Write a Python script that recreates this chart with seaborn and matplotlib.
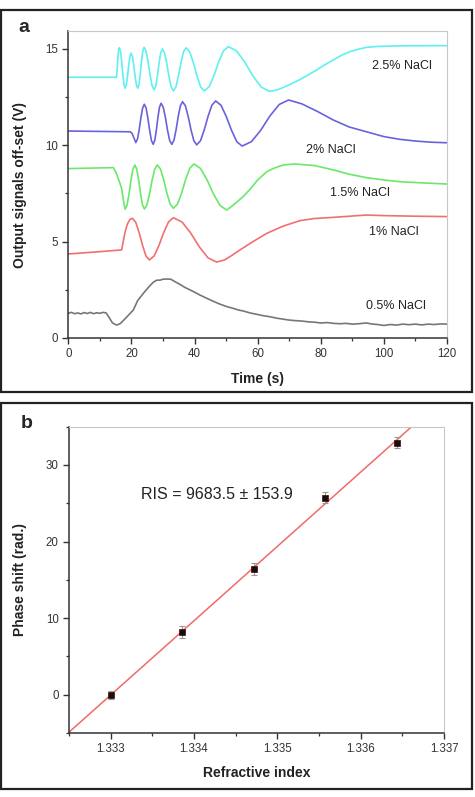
import numpy as np
import pandas as pd
import matplotlib
matplotlib.use("Agg")
import matplotlib.pyplot as plt
from matplotlib.patches import Rectangle
from matplotlib.ticker import MultipleLocator, FormatStrFormatter
import seaborn as sns

# ---------------- data: panel a ----------------
t_cyan = [0, 15.3, 15.5, 15.8, 16.0, 16.2, 16.56, 16.92, 17.28, 17.64, 18.0, 18.38, 18.76, 19.14, 19.52, 19.9,
          20.32, 20.74, 21.16, 21.58, 22.0, 22.4, 22.8, 23.2, 23.6, 24.0, 24.64, 25.28, 25.92, 26.56, 27.2,
          27.72, 28.24, 28.76, 29.28, 29.8, 30.5, 31.2, 31.9, 32.6, 33.3, 34.1, 34.9, 35.7, 36.5, 37.3,
          38.46, 39.62, 40.78, 41.94, 43.1, 44.62, 46.14, 47.66, 49.18, 50.7, 53.3, 55.9, 58.5, 61.1, 63.7,
          66.0, 68.1, 70.8, 73.5, 76.0, 78.7, 81.3, 84.0, 86.7, 89.3, 92.0, 94.5, 98, 105, 120]
v_cyan = [13.53, 13.53, 14.0, 14.7, 15.0, 15.06, 14.86, 14.34, 13.68, 13.16, 12.96, 13.13, 13.59, 14.15, 14.61, 14.78,
          14.61, 14.15, 13.59, 13.13, 12.96, 13.16, 13.69, 14.36, 14.89, 15.09, 14.88, 14.32, 13.64, 13.08, 12.87,
          13.07, 13.60, 14.27, 14.80, 15.0, 14.79, 14.25, 13.57, 13.03, 12.82, 13.03, 13.59, 14.29, 14.85, 15.06,
          14.85, 14.29, 13.59, 13.03, 12.82, 13.04, 13.61, 14.33, 14.90, 15.12, 14.90, 14.32, 13.60, 13.02, 12.80,
          12.86, 13.0, 13.2, 13.42, 13.65, 13.91, 14.18, 14.43, 14.68, 14.86, 14.99, 15.08, 15.13, 15.16, 15.17]

t_blue = [0, 10, 19.6, 20.2, 20.8, 21.4, 21.94, 22.48, 23.02, 23.56, 24.1, 24.66, 25.22, 25.78, 26.34, 26.9,
          27.4, 27.9, 28.4, 28.9, 29.4, 30.08, 30.76, 31.44, 32.12, 32.8, 33.48, 34.16, 34.84, 35.52, 36.2,
          37.1, 38.0, 38.9, 39.8, 40.7, 41.9, 43.1, 44.3, 45.5, 46.7, 48.38, 50.06, 51.74, 53.42, 55.1,
          58.04, 60.98, 63.92, 66.86, 69.8, 74, 79, 84, 89, 94.5, 100, 105, 110, 115, 120]
v_blue = [10.74, 10.72, 10.70, 10.62, 10.38, 10.14, 10.33, 10.83, 11.44, 11.94, 12.13, 11.93, 11.41, 10.77, 10.25, 10.05,
          10.25, 10.78, 11.45, 11.98, 12.18, 11.98, 11.45, 10.78, 10.25, 10.05, 10.26, 10.81, 11.50, 12.05, 12.26,
          12.05, 11.49, 10.79, 10.23, 10.02, 10.24, 10.81, 11.51, 12.08, 12.30, 12.08, 11.49, 10.77, 10.18, 9.96,
          10.19, 10.78, 11.53, 12.12, 12.35, 12.15, 11.75, 11.31, 10.95, 10.7, 10.45, 10.31, 10.22, 10.16, 10.13]

t_green = [0, 14.3, 15.2, 16.1, 16.9, 17.5, 18.0, 18.62, 19.24, 19.86, 20.48, 21.1, 21.7, 22.3, 22.9, 23.5, 24.1,
           24.92, 25.74, 26.56, 27.38, 28.2, 29.22, 30.24, 31.26, 32.28, 33.3, 34.6, 35.9, 37.2, 38.5, 39.8,
           41.88, 43.96, 46.04, 48.12, 50.2, 52.3, 55.5, 57.6, 60.0, 62.9, 65.0, 68.1, 71.8, 78, 84, 89, 94.5,
           100, 105, 112, 120]
v_green = [8.79, 8.84, 8.55, 8.15, 7.77, 7.1, 6.68, 6.90, 7.47, 8.19, 8.76, 8.98, 8.76, 8.19, 7.48, 6.91, 6.69,
           6.91, 7.48, 8.19, 8.76, 8.98, 8.77, 8.20, 7.51, 6.94, 6.73, 6.95, 7.52, 8.24, 8.81, 9.03,
           8.80, 8.21, 7.46, 6.87, 6.64, 6.9, 7.35, 7.72, 8.2, 8.63, 8.8, 8.98, 9.03, 8.95, 8.72, 8.5, 8.32,
           8.2, 8.11, 8.05, 7.99]

t_red = [0, 5, 10, 16.9, 17.4, 18.0, 18.7, 19.5, 20.3, 21.38, 22.46, 23.54, 24.62, 25.7, 27.22, 28.74, 30.26,
         31.78, 33.3, 36.04, 38.78, 41.52, 44.26, 47.0, 49.5, 51.5, 54.4, 58.5, 62.9, 68, 73.4, 78, 84, 90,
         94.5, 100, 110, 120]
v_red = [4.36, 4.42, 4.48, 4.57, 5.0, 5.5, 5.9, 6.15, 6.21, 6.00, 5.46, 4.80, 4.25, 4.05, 4.26, 4.81, 5.48,
         6.03, 6.24, 6.02, 5.45, 4.73, 4.16, 3.94, 4.05, 4.25, 4.57, 5.0, 5.43, 5.8, 6.09, 6.2, 6.26, 6.33,
         6.38, 6.35, 6.32, 6.3]

t_gray = [0, 1, 2, 3, 4, 5, 6, 7, 8, 9, 10, 11, 12, 13, 14, 15.3, 16.5, 18, 20.6, 22, 23.8, 25.5, 26.9, 28, 29,
          30, 31.2, 32.5, 33.5, 35.4, 37, 38.5, 40, 41.7, 44, 46, 48, 50.2, 52, 54, 55.5, 57.6, 60, 62, 64, 66,
          68, 70, 72, 74, 76, 78, 80, 82, 84, 86, 88, 90, 92, 94.5, 96, 98, 100, 102, 104, 106, 108, 110, 112,
          114, 116, 118, 120]
v_gray = [1.28, 1.33, 1.26, 1.3, 1.25, 1.32, 1.27, 1.33, 1.26, 1.31, 1.28, 1.33, 1.3, 1.05, 0.78, 0.67, 0.75,
          1.0, 1.45, 1.95, 2.32, 2.65, 2.89, 3.0, 3.0, 3.05, 3.06, 3.05, 2.95, 2.78, 2.62, 2.5, 2.38, 2.23, 2.05,
          1.9, 1.76, 1.63, 1.55, 1.45, 1.4, 1.3, 1.22, 1.15, 1.1, 1.03, 0.98, 0.93, 0.9, 0.88, 0.84, 0.82, 0.78,
          0.8, 0.76, 0.74, 0.76, 0.72, 0.74, 0.78, 0.73, 0.7, 0.65, 0.7, 0.67, 0.72, 0.69, 0.72, 0.68, 0.72, 0.7,
          0.73, 0.72]

series_names = ["2.5% NaCl", "2% NaCl", "1.5% NaCl", "1% NaCl", "0.5% NaCl"]
series_colors = ["#5ff0f0", "#6a62dc", "#6ae86a", "#f07070", "#777777"]
label_pos = [(105.6, 14.13), (83.2, 9.76), (92.4, 7.51), (103.0, 5.48), (103.8, 1.68)]

# ---------------- data: panel b ----------------
ri = [1.333, 1.33386, 1.33472, 1.33557, 1.33644]
phase = [0.0, 8.15, 16.37, 25.72, 32.9]
phase_err = [0.5, 0.8, 0.8, 0.7, 0.7]
ris_text = "RIS = 9683.5 \u00b1 153.9"

# ---------------- style ----------------
sns.set_style("ticks")
plt.rcParams["font.family"] = ["Liberation Sans", "DejaVu Sans"]

fig = plt.figure(figsize=(4.75, 7.97), dpi=100)

# outer panel frames
for (x0, y0, x1, y1) in [(1, 10, 472, 392), (1, 403, 472, 789)]:
    fig.patches.append(Rectangle((x0 / 475, 1 - y1 / 797), (x1 - x0) / 475, (y1 - y0) / 797,
                                 transform=fig.transFigure, fill=False, edgecolor="#222222",
                                 linewidth=1.6, zorder=0))

def style_axes(ax):
    for s in ["left", "bottom"]:
        ax.spines[s].set_color("#333333")
        ax.spines[s].set_linewidth(1.1)
    for s in ["top", "right"]:
        ax.spines[s].set_visible(True)
        ax.spines[s].set_color("#c8c8c8")
        ax.spines[s].set_linewidth(0.8)
    ax.tick_params(which="major", direction="out", length=4, width=1, color="#333333",
                   labelsize=8.3, labelcolor="#333333", top=False, right=False)
    ax.tick_params(which="minor", direction="out", length=2.5, width=0.9, color="#333333",
                   top=False, right=False)

# ---------------- panel a ----------------
axa = fig.add_axes([68.3 / 475, 1 - 338 / 797, (447 - 68.3) / 475, (338 - 31) / 797])
all_t = [t_cyan, t_blue, t_green, t_red, t_gray]
all_v = [v_cyan, v_blue, v_green, v_red, v_gray]
frames = []
for name, tt, vv in zip(series_names, all_t, all_v):
    frames.append(pd.DataFrame({"t": tt, "v": vv, "series": name}))
dfa = pd.concat(frames, ignore_index=True)
sns.lineplot(data=dfa, x="t", y="v", hue="series", hue_order=series_names,
             palette=dict(zip(series_names, series_colors)), estimator=None, sort=True,
             linewidth=1.2, legend=False, ax=axa)
for name, (lx, ly) in zip(series_names, label_pos):
    axa.text(lx, ly, name, ha="center", va="center", fontsize=9, color="#222222")
axa.set_xlim(0, 120)
axa.set_ylim(0, 15.93)
axa.xaxis.set_major_locator(MultipleLocator(20))
axa.xaxis.set_minor_locator(MultipleLocator(10))
axa.yaxis.set_major_locator(MultipleLocator(5))
axa.yaxis.set_minor_locator(MultipleLocator(2.5))
style_axes(axa)
axa.set_xlabel("Time (s)", fontsize=10, fontweight="bold", color="#222222")
axa.set_ylabel("Output signals off-set (V)", fontsize=10, fontweight="bold", color="#222222")
axa.xaxis.set_label_coords(0.5, -0.11)
axa.yaxis.set_label_coords(-0.109, 0.5)
fig.text(24 / 475, 1 - 28 / 797, "a", fontsize=14, fontweight="bold", ha="center", va="center")

# ---------------- panel b ----------------
axb = fig.add_axes([69 / 475, 1 - 733 / 797, (444 - 69) / 475, (733 - 426.7) / 797])
axb.set_xlim(1.3325, 1.337)
axb.set_ylim(-5, 35)
dfb = pd.DataFrame({"ri": ri, "phase": phase, "err": phase_err})
sns.regplot(data=dfb, x="ri", y="phase", ci=None, truncate=False, scatter=False,
            line_kws=dict(color="#f06a6a", linewidth=1.1), ax=axb)
axb.errorbar(dfb["ri"], dfb["phase"], yerr=dfb["err"], fmt="none", ecolor="#999999",
             elinewidth=0.8, capsize=2.5, capthick=0.8, zorder=3)
sns.scatterplot(data=dfb, x="ri", y="phase", marker="s", s=17, color="#111111",
                edgecolor="#550000", linewidth=0.5, zorder=4, ax=axb)
axb.text(1.33427, 26.2, ris_text, ha="center", va="center", fontsize=11.5, color="#222222")
axb.set_xlim(1.3325, 1.337)
axb.set_ylim(-5, 35)
axb.set_xticks([1.333, 1.334, 1.335, 1.336, 1.337])
axb.xaxis.set_major_formatter(FormatStrFormatter("%.3f"))
axb.xaxis.set_minor_locator(MultipleLocator(0.0005))
axb.yaxis.set_major_locator(MultipleLocator(10))
axb.yaxis.set_minor_locator(MultipleLocator(5))
style_axes(axb)
axb.set_xlabel("Refractive index", fontsize=10, fontweight="bold", color="#222222")
axb.set_ylabel("Phase shift (rad.)", fontsize=10, fontweight="bold", color="#222222")
axb.xaxis.set_label_coords(0.5, -0.108)
axb.yaxis.set_label_coords(-0.113, 0.5)
fig.text(26.7 / 475, 1 - 424 / 797, "b", fontsize=14, fontweight="bold", ha="center", va="center")

fig.savefig("out.png", dpi=100)
